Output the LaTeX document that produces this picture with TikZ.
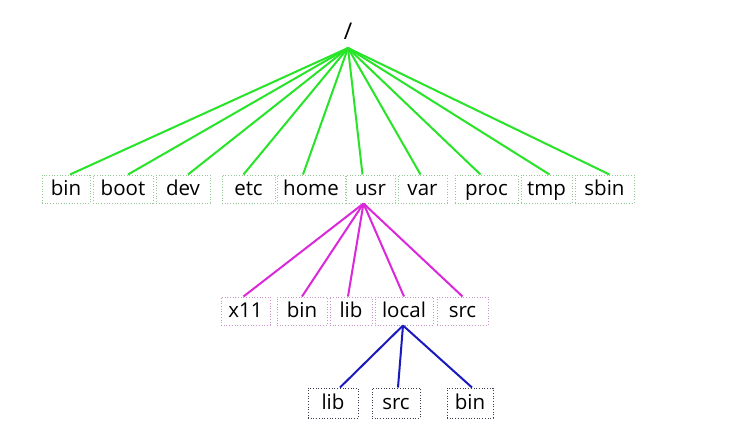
\documentclass[tikz,border=0pt]{standalone}
\usepackage{fontspec}
\setmainfont{Open Sans}
\definecolor{lgreen}{RGB}{40,228,40}
\definecolor{lmag}{RGB}{218,40,218}
\definecolor{lblue}{RGB}{25,25,190}
\definecolor{bgreen}{RGB}{150,200,150}
\definecolor{bmag}{RGB}{200,150,200}
\definecolor{bdark}{RGB}{60,60,80}
\begin{document}
\begin{tikzpicture}[x=1pt,y=-1pt,
  dirbox/.style={draw, dash pattern=on 1pt off 1.7pt, line width=1pt,
    inner sep=0pt, font=\fontsize{20.5}{22}\selectfont, text=black,
    text height=15.5pt, text depth=3.5pt},
  r1/.style={dirbox, draw=bgreen, minimum height=28pt},
  r2/.style={dirbox, draw=bmag, minimum height=28pt},
  r3/.style={dirbox, draw=bdark, minimum height=30pt},
  gl/.style={draw=lgreen, line width=2pt},
  ml/.style={draw=lmag, line width=2pt},
  bl/.style={draw=lblue, line width=2pt}]
\useasboundingbox (0,0) rectangle (754,423);
\fill[white] (0,0) rectangle (754,423);
\node[font=\fontsize{23}{25}\selectfont] (root) at (348,31) {/};
\coordinate (hub) at (348,48);
% row 1
\node[r1, minimum width=48pt] (bin) at (66,189) {bin};
\node[r1, minimum width=60pt] (boot) at (123,189) {boot};
\node[r1, minimum width=54pt] (dev) at (183,189) {dev};
\node[r1, minimum width=53pt] (etc) at (248.5,189) {etc};
\node[r1, minimum width=68pt] (home) at (311,189) {home};
\node[r1, minimum width=49pt] (usr) at (370.5,189) {usr};
\node[r1, minimum width=49pt] (var) at (422.5,189) {var};
\node[r1, minimum width=63pt] (proc) at (486.5,189) {proc};
\node[r1, minimum width=51pt] (tmp) at (546.5,189) {tmp};
\node[r1, minimum width=59pt] (sbin) at (604.5,189) {sbin};
% row 2
\node[r2, minimum width=49pt] (x11) at (245.5,311) {x11};
\node[r2, minimum width=50pt] (ubin) at (302,311) {bin};
\node[r2, minimum width=42pt] (ulib) at (351,311) {lib};
\node[r2, minimum width=58pt] (local) at (404,311) {local};
\node[r2, minimum width=51pt] (usrc) at (462.5,311) {src};
% row 3
\node[r3, minimum width=50pt] (llib) at (333,403) {lib};
\node[r3, minimum width=48pt] (lsrc) at (396,403) {src};
\node[r3, minimum width=46pt] (lbin) at (470,403) {bin};
% green connectors
\draw[gl] (hub) -- ([xshift=4pt]bin.north);
\draw[gl] (hub) -- ([xshift=5pt]boot.north);
\draw[gl] (hub) -- ([xshift=5pt]dev.north);
\draw[gl] (hub) -- ([xshift=-5pt]etc.north);
\draw[gl] (hub) -- ([xshift=-8pt]home.north);
\draw[gl] (hub) -- ([xshift=-8pt]usr.north);
\draw[gl] (hub) -- ([xshift=-2pt]var.north);
\draw[gl] (hub) -- ([xshift=-6pt]proc.north);
\draw[gl] (hub) -- ([xshift=3pt]tmp.north);
\draw[gl] (hub) -- ([xshift=5pt]sbin.north);
% magenta connectors
\coordinate (usrb) at ([xshift=-7pt]usr.south);
\draw[ml] (usrb) -- ([xshift=-2pt]x11.north);
\draw[ml] (usrb) -- (ubin.north);
\draw[ml] (usrb) -- ([xshift=-3pt]ulib.north);
\draw[ml] (usrb) -- (local.north);
\draw[ml] (usrb) -- (usrc.north);
% blue connectors
\coordinate (localb) at ([xshift=-1pt]local.south);
\draw[bl] (localb) -- ([xshift=7pt]llib.north);
\draw[bl] (localb) -- ([xshift=2pt]lsrc.north);
\draw[bl] (localb) -- ([xshift=2pt]lbin.north);
\end{tikzpicture}
\end{document}
